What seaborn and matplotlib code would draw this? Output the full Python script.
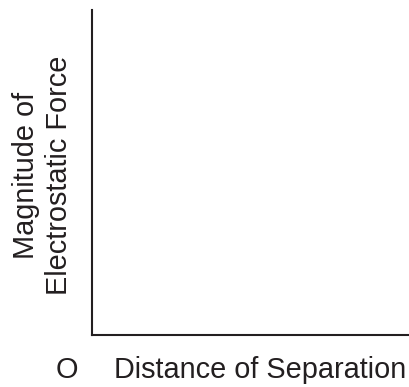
import matplotlib
matplotlib.use("Agg")
import matplotlib.pyplot as plt
import seaborn as sns

# Chart content (empty sketch axes)
x_label = "Distance of Separation"
y_label = "Magnitude of\nElectrostatic Force"
origin_label = "O"
x_limits = [0, 1]
y_limits = [0, 1]

sns.set_style("ticks")
plt.rcParams['font.family'] = ['Liberation Sans', 'DejaVu Sans']

ink = '#231f20'
fs = 20.8

fig = plt.figure(figsize=(4.10, 3.87), dpi=100)
ax = fig.add_axes([92 / 410, 52 / 387, 318 / 410, 325 / 387])
ax.set_xlim(x_limits)
ax.set_ylim(y_limits)

sns.despine(ax=ax)
for side in ['left', 'bottom']:
    ax.spines[side].set_linewidth(1.5)
    ax.spines[side].set_color(ink)
ax.set_xticks([])
ax.set_yticks([])

ax.set_xlabel(x_label, fontsize=fs, color=ink, va='baseline')
ax.xaxis.set_label_coords(0.530, -0.132)
ax.set_ylabel(y_label, fontsize=fs, color=ink)
ax.yaxis.set_label_coords(-0.061, 0.49)
ax.text(-0.080, -0.132, origin_label, transform=ax.transAxes,
        fontsize=fs, color=ink, ha='center', va='baseline')

fig.savefig("out.png", dpi=100)
